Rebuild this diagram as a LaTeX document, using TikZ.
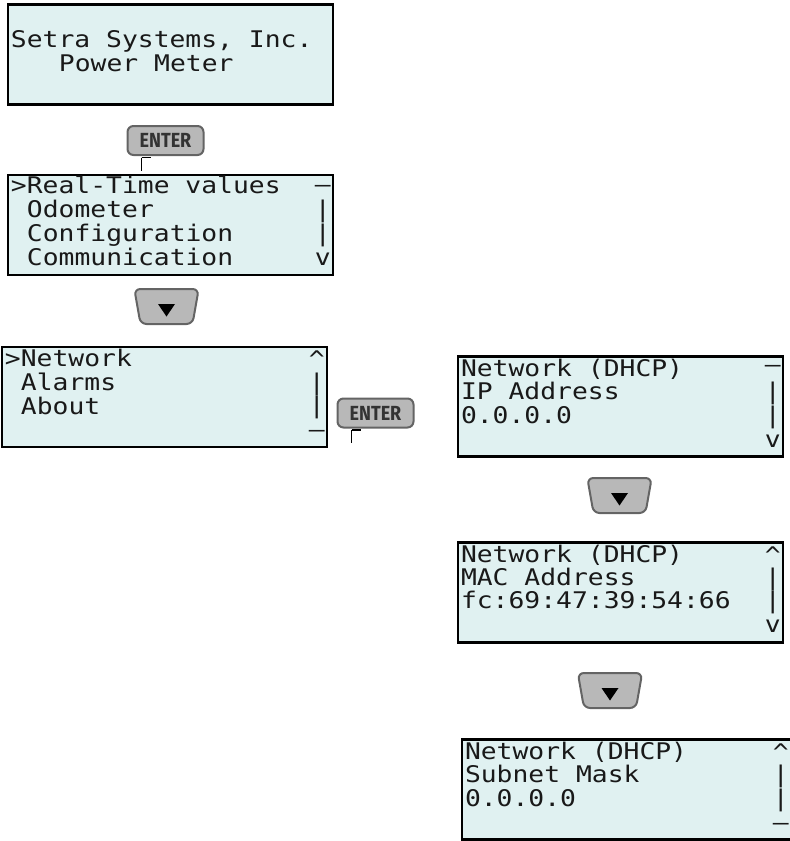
\documentclass[tikz,border=0pt]{standalone}
\usepackage{fontspec}
\usepackage{xcolor}
\usepackage{tikz}
\usetikzlibrary{shapes.geometric, positioning, calc}
\newfontfamily\lcdfont[FakeStretch=1.15]{DejaVu Sans Mono}
\newfontfamily\keyfont[FakeStretch=0.88]{Fira Sans}
\definecolor{lcdcyan}{RGB}{224, 241, 241}
\definecolor{keygray}{RGB}{184, 184, 184}
\definecolor{keyedge}{RGB}{100, 100, 100}

\begin{document}
\begin{tikzpicture}[x=1bp, y=-1bp,
    screen/.style={draw=black, line width=2.4bp, fill=lcdcyan, inner sep=0pt,
                   minimum width=325bp, minimum height=100bp},
    lcd/.style={anchor=base west, inner sep=0pt, text=black!90,
                font=\lcdfont\fontsize{23}{24}\selectfont},
    bar/.style={anchor=base, inner sep=0pt, text=black!90,
                font=\lcdfont\fontsize{23}{24}\selectfont},
    enterkey/.style={draw=keyedge, line width=2bp, fill=keygray, rounded corners=6bp,
                     minimum width=76bp, minimum height=29bp, inner sep=0pt, text=black!80,
                     font=\keyfont\bfseries\fontsize{20.5}{20}\selectfont},
    downkey/.style={trapezium, shape border rotate=180, trapezium angle=80,
                    draw=keyedge, line width=2bp, fill=keygray, rounded corners=6bp,
                    text width=52bp, text height=35bp, text depth=0pt, inner sep=0pt},
    tickmark/.style={draw=black, line width=1.2bp}
]
    \clip (0,0) rectangle (790,841);

    % screens
    \node[screen] (home) at (170.5,54.5) {};
    \node[screen] (menu) at (170.5,225) {};
    \node[screen] (more) at (164.5,397) {};
    \node[screen] (ip) at (620.5,406.5) {};
    \node[screen] (mac) at (620.5,592.5) {};
    \node[screen, minimum width=335bp] (mask) at (629.5,789.5) {};

    \node[lcd] (home2) at ($(home.north west)+(4,44)$) {Setra Systems, Inc.};
    \node[lcd] (home3) at ($(home.north west)+(52,68)$) {Power Meter};

    \node[lcd] (menu1) at ($(menu.north west)+(4,20)$) {>Real-Time values};
    \node[lcd] (menu2) at ($(menu.north west)+(20,44)$) {Odometer};
    \node[lcd] (menu3) at ($(menu.north west)+(20,68)$) {Configuration};
    \node[lcd] (menu4) at ($(menu.north west)+(20,92)$) {Communication};
    \node[bar] (menuS1) at ($(menu.north west)+(316,19)$) {–};
    \node[bar] (menuS2) at ($(menu.north west)+(316,44)$) {|};
    \node[bar] (menuS3) at ($(menu.north west)+(316,68)$) {|};
    \node[bar] (menuS4) at ($(menu.north west)+(316,92)$) {v};

    \node[lcd] (more1) at ($(more.north west)+(4,21)$) {>Network};
    \node[lcd] (more2) at ($(more.north west)+(20,45)$) {Alarms};
    \node[lcd] (more3) at ($(more.north west)+(20,69)$) {About};
    \node[bar] (moreS1) at ($(more.north west)+(316,22)$) {\^{}};
    \node[bar] (moreS2) at ($(more.north west)+(316,45)$) {|};
    \node[bar] (moreS3) at ($(more.north west)+(316,68)$) {|};
    \node[bar] (moreS4) at ($(more.north west)+(316,92)$) {–};

    \node[lcd] (ip1) at ($(ip.north west)+(4,21)$) {Network (DHCP)};
    \node[lcd] (ip2) at ($(ip.north west)+(4,44)$) {IP Address};
    \node[lcd] (ip3) at ($(ip.north west)+(4,68)$) {0.0.0.0};
    \node[bar] (ipS1) at ($(ip.north west)+(316,17)$) {–};
    \node[bar] (ipS2) at ($(ip.north west)+(316,44)$) {|};
    \node[bar] (ipS3) at ($(ip.north west)+(316,68)$) {|};
    \node[bar] (ipS4) at ($(ip.north west)+(316,92)$) {v};

    \node[lcd] (mac1) at ($(mac.north west)+(4,21)$) {Network (DHCP)};
    \node[lcd] (mac2) at ($(mac.north west)+(4,44)$) {MAC Address};
    \node[lcd] (mac3) at ($(mac.north west)+(4,67)$) {fc:69:47:39:54:66};
    \node[bar] (macS1) at ($(mac.north west)+(316,22)$) {\^{}};
    \node[bar] (macS2) at ($(mac.north west)+(316,44)$) {|};
    \node[bar] (macS3) at ($(mac.north west)+(316,67)$) {|};
    \node[bar] (macS4) at ($(mac.north west)+(316,91)$) {v};

    \node[lcd] (mask1) at ($(mask.north west)+(4,21)$) {Network (DHCP)};
    \node[lcd] (mask2) at ($(mask.north west)+(4,44)$) {Subnet Mask};
    \node[lcd] (mask3) at ($(mask.north west)+(4,68)$) {0.0.0.0};
    \node[bar] (maskS1) at ($(mask.north west)+(320,22)$) {\^{}};
    \node[bar] (maskS2) at ($(mask.north west)+(320,44)$) {|};
    \node[bar] (maskS3) at ($(mask.north west)+(320,68)$) {|};
    \node[bar] (maskS4) at ($(mask.north west)+(320,92)$) {–};

    % keys
    \node[enterkey] (enter1) at (165.5,140.5) {ENTER};
    \coordinate (tick1) at ($(enter1.south west)+(15,1.5)$);
    \draw[tickmark] (tick1) -- ++(0,13) (tick1) -- ++(9,0);

    \node[enterkey] (enter2) at (375.5,413) {ENTER};
    \coordinate (tick2) at ($(enter2.south west)+(15,1.5)$);
    \draw[tickmark] (tick2) -- ++(0,13) (tick2) -- ++(9,0);

    \node[downkey] (down1) at (166.5,306.5) {};
    \fill ($(down1)+(-8.5,-2.5)$) -- ++(17,0) -- ++(-8.5,12.5) -- cycle;
    \node[downkey] (down2) at (619.5,495.5) {};
    \fill ($(down2)+(-8.5,-2.5)$) -- ++(17,0) -- ++(-8.5,12.5) -- cycle;
    \node[downkey] (down3) at (610,690.5) {};
    \fill ($(down3)+(-8.5,-2.5)$) -- ++(17,0) -- ++(-8.5,12.5) -- cycle;
\end{tikzpicture}
\end{document}
